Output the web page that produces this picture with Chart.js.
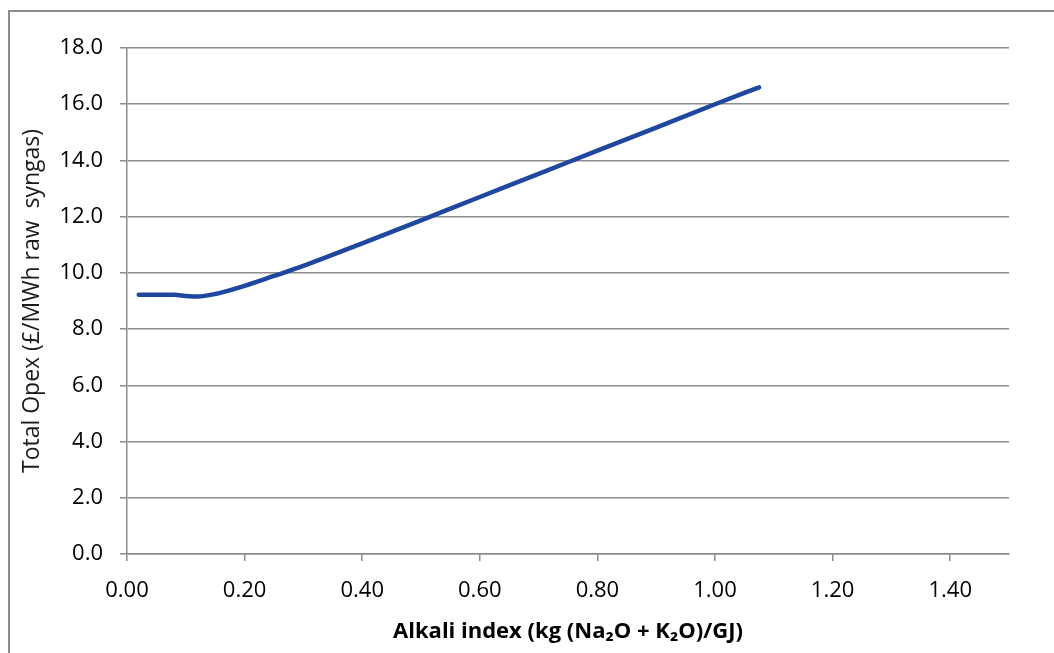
<!DOCTYPE html>
<html>
<head>
<meta charset="utf-8">
<script src="https://cdn.jsdelivr.net/npm/chart.js@4/dist/chart.umd.min.js"></script>
<style>
  html, body { margin: 0; padding: 0; background: #fff; overflow: hidden; }
  #wrap { position: relative; width: 1054px; height: 653px; }
  #frame {
    position: absolute; left: 8px; top: 10px; width: 1100px; height: 700px;
    border: 2px solid #8c8c8c; box-sizing: border-box; pointer-events: none;
  }
  canvas { position: absolute; left: 0; top: 0; }
</style>
</head>
<body>
<div id="wrap">
  <canvas id="chart" width="1054" height="653"></canvas>
  <div id="frame"></div>
</div>
<script>
// Alkali index (kg (Na2O + K2O)/GJ)
const alkaliIndex = [0.02, 0.05, 0.08, 0.10, 0.12, 0.15, 0.20, 0.25, 0.30, 0.40, 0.50, 0.60, 0.70, 0.80, 0.90, 1.00, 1.075];
// Total opex (£/MWh raw syngas)
const totalOpex   = [9.22, 9.22, 9.22, 9.18, 9.16, 9.25, 9.54, 9.89, 10.25, 11.05, 11.87, 12.70, 13.52, 14.35, 15.17, 16.00, 16.60];

const xAxisTitle = 'Alkali index (kg (Na\u2082O + K\u2082O)/GJ)';
const yAxisTitle = 'Total Opex (£/MWh raw  syngas)';

const FONT = '"Open Sans", "Liberation Sans", sans-serif';
const GRID = '#8c8c8c';

const points = alkaliIndex.map((x, i) => ({ x: x, y: totalOpex[i] }));

new Chart(document.getElementById('chart'), {
  type: 'line',
  data: {
    datasets: [{
      data: points,
      borderColor: '#1f47a0',
      borderWidth: 4.5,
      borderCapStyle: 'round',
      borderJoinStyle: 'round',
      pointRadius: 0,
      cubicInterpolationMode: 'monotone',
      fill: false
    }]
  },
  options: {
    responsive: false,
    animation: false,
    devicePixelRatio: 1,
    layout: { padding: { top: 48, right: 45, left: 0, bottom: 0 } },
    plugins: { legend: { display: false }, tooltip: { enabled: false } },
    scales: {
      x: {
        type: 'linear',
        min: 0,
        max: 1.5,
        afterFit: (s) => { s.height = 99; },
        ticks: {
          stepSize: 0.2,
          includeBounds: false,
          padding: 17,
          color: '#000',
          font: { family: FONT, size: 22 },
          callback: (v) => v.toFixed(2)
        },
        grid: { drawOnChartArea: false, drawTicks: true, tickLength: 7, color: GRID, lineWidth: 1.5 },
        border: { display: true, color: GRID, width: 1.5 },
        title: {
          display: true,
          text: xAxisTitle,
          color: '#000',
          font: { family: FONT, size: 22, weight: 'bold' },
          padding: { top: 0, bottom: 8 }
        }
      },
      y: {
        type: 'linear',
        min: 0,
        max: 18,
        afterFit: (s) => { s.width = 127; },
        ticks: {
          stepSize: 2,
          padding: 17,
          color: '#000',
          font: { family: FONT, size: 22 },
          callback: (v) => v.toFixed(1)
        },
        grid: { drawOnChartArea: true, drawTicks: true, tickLength: 7, color: GRID, lineWidth: 1.5 },
        border: { display: true, color: GRID, width: 1.5 },
        title: {
          display: true,
          text: yAxisTitle,
          color: '#1a1a1a',
          font: { family: FONT, size: 23 },
          padding: { top: 19, bottom: 0 }
        }
      }
    }
  }
});
</script>
</body>
</html>
